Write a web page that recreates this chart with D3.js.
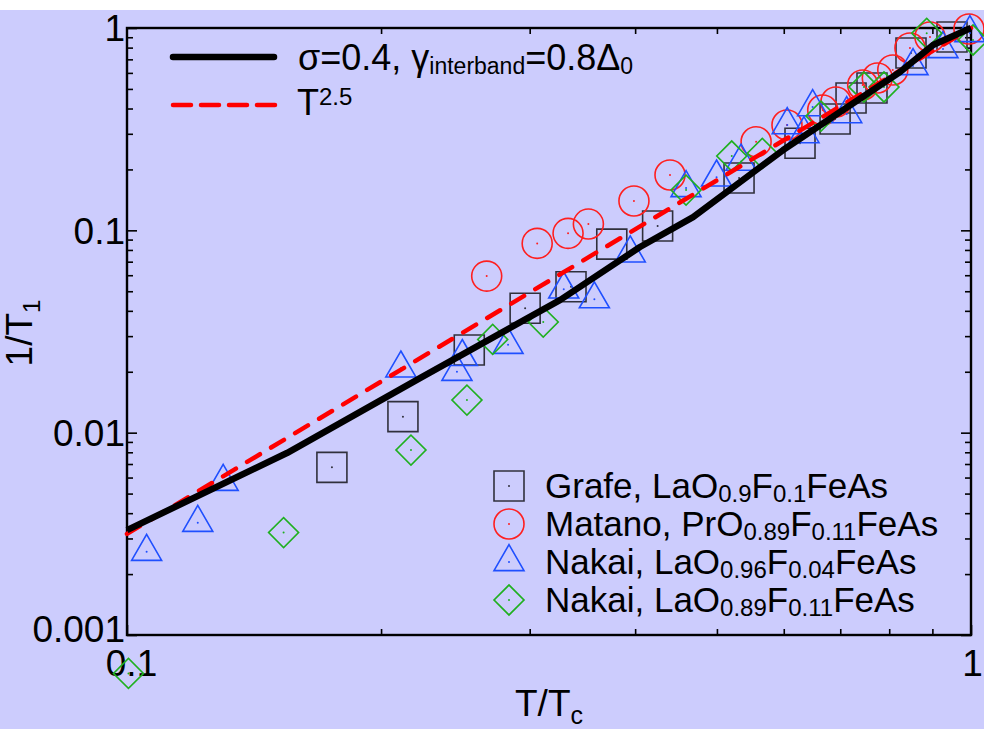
<!DOCTYPE html>
<html>
<head>
<meta charset="utf-8">
<script src="https://cdn.jsdelivr.net/npm/d3@7"></script>
<style>
  html, body { margin: 0; padding: 0; background: #fff; }
  svg text { font-family: "Liberation Sans", Arial, sans-serif; fill: #000; }
</style>
</head>
<body>
<svg id="chart" width="984" height="729"></svg>
<script>
// values (T/Tc , 1/T1 normalised)
const theoryT    = [0.1, 0.1547, 0.2224, 0.3258, 0.4053, 0.4685, 0.5989, 0.6996, 0.824, 0.9016, 1];
const theoryRate = [0.0033, 0.00793, 0.0186, 0.0452, 0.0827, 0.1163, 0.2493, 0.3844, 0.6061, 0.824, 1];

const powerT    = [0.1, 1];
const powerRate = [0.00316, 1];

const grafeT    = [0.1749, 0.2123, 0.2544, 0.2963, 0.3358, 0.3753, 0.4253, 0.5311, 0.6272, 0.6902, 0.7209, 0.7633, 0.849, 0.9495];
const grafeRate = [0.00674, 0.012, 0.0256, 0.0412, 0.0526, 0.0855, 0.105, 0.1814, 0.2692, 0.3549, 0.4508, 0.5051, 0.7523, 0.9027];

const matanoT    = [0.2668, 0.3062, 0.3331, 0.3521, 0.3987, 0.4399, 0.5564, 0.6053, 0.6673, 0.6918, 0.7442, 0.7745, 0.8078, 0.8466, 0.8941, 0.9945];
const matanoRate = [0.0594, 0.0862, 0.0966, 0.1074, 0.1396, 0.1877, 0.2742, 0.3315, 0.3932, 0.4307, 0.5228, 0.5661, 0.6201, 0.7961, 0.9026, 0.989];

const nakai04T    = [0.1055, 0.1213, 0.13, 0.2111, 0.246, 0.2496, 0.2828, 0.3292, 0.3579, 0.3947, 0.4596, 0.4995, 0.534, 0.6057, 0.634, 0.6492, 0.7124, 0.8537, 0.9264, 0.997];
const nakai04Rate = [0.00258, 0.00359, 0.00572, 0.0208, 0.02, 0.0237, 0.0272, 0.0511, 0.0457, 0.077, 0.1619, 0.1828, 0.2188, 0.3315, 0.2992, 0.4069, 0.3757, 0.6492, 0.7874, 0.9447];

const nakai11T    = [0.1004, 0.1533, 0.217, 0.2528, 0.2712, 0.3113, 0.4596, 0.5206, 0.5659, 0.6642, 0.7467, 0.7887, 0.8862, 1.0055];
const nakai11Rate = [0.000646, 0.00321, 0.0082, 0.0145, 0.0289, 0.0352, 0.1582, 0.233, 0.2402, 0.3673, 0.511, 0.511, 0.9414, 0.8723];

const yMajor = [1, 0.1, 0.01, 0.001];
const yMinor = [2,3,4,5,6,7,8,9].flatMap(m => [m * 0.001, m * 0.01, m * 0.1]);
const yTickLabels = ["1", "0.1", "0.01", "0.001"];
const xMajor = [0.1, 1];
const xMinor = [0.2, 0.3, 0.4, 0.5, 0.6, 0.7, 0.8, 0.9];
const xTickLabels = ["0.1", "1"];

const seriesNames = [
  ["Grafe, LaO", "0.9", "F", "0.1", "FeAs"],
  ["Matano, PrO", "0.89", "F", "0.11", "FeAs"],
  ["Nakai, LaO", "0.96", "F", "0.04", "FeAs"],
  ["Nakai, LaO", "0.89", "F", "0.11", "FeAs"]
];

const bg = "#ccccfd";
const svg = d3.select("#chart");

svg.append("rect")
  .attr("x", 0).attr("y", 10)
  .attr("width", 984).attr("height", 719)
  .attr("fill", bg);

const x = d3.scaleLog().domain([0.1, 1]).range([127, 971]);
const y = d3.scaleLog().domain([0.001, 1]).range([635, 28]);

// ---- axes (ticks pointing inwards on all four sides)
function styleAxis(g) {
  g.select(".domain").remove();
  g.selectAll(".tick line").attr("stroke", "#000").attr("stroke-width", 1.6);
  g.selectAll(".tick text").attr("font-size", 37).attr("fill", "#000");
}

svg.append("g").attr("transform", "translate(127,0)")
  .call(d3.axisLeft(y).tickValues(yMajor).tickSize(-10).tickPadding(2)
    .tickFormat((d, i) => yTickLabels[i]))
  .call(styleAxis)
  .call(g => g.selectAll(".tick text").attr("dy", (d, i) => i === 3 ? "0.18em" : "0.35em"))
  .attr("font-family", null);

svg.append("g").attr("transform", "translate(127,0)")
  .call(d3.axisLeft(y).tickValues(yMinor).tickSize(-6).tickFormat(""))
  .call(styleAxis);

svg.append("g").attr("transform", "translate(971,0)")
  .call(d3.axisRight(y).tickValues(yMajor).tickSize(-10).tickFormat(""))
  .call(styleAxis);

svg.append("g").attr("transform", "translate(971,0)")
  .call(d3.axisRight(y).tickValues(yMinor).tickSize(-6).tickFormat(""))
  .call(styleAxis);

svg.append("g").attr("transform", "translate(0,635)")
  .call(d3.axisBottom(x).tickValues(xMajor).tickSize(-10).tickPadding(15)
    .tickFormat((d, i) => xTickLabels[i]))
  .call(styleAxis)
  .call(g => g.selectAll(".tick text").attr("dx", (d, i) => i === 0 ? 4 : 1))
  .attr("font-family", null);

svg.append("g").attr("transform", "translate(0,635)")
  .call(d3.axisBottom(x).tickValues(xMinor).tickSize(-6).tickFormat(""))
  .call(styleAxis);

svg.append("g").attr("transform", "translate(0,28)")
  .call(d3.axisTop(x).tickValues(xMinor).tickSize(-6).tickFormat(""))
  .call(styleAxis);

svg.append("rect")
  .attr("x", 127).attr("y", 28)
  .attr("width", 971 - 127).attr("height", 635 - 28)
  .attr("fill", "none").attr("stroke", "#000").attr("stroke-width", 2.4);

// ---- markers
const markerSpecs = [
  { t: grafeT,   r: grafeRate,   color: "#30303c", type: d3.symbolSquare,   size: 900, rot: 0 },
  { t: matanoT,  r: matanoRate,  color: "#ff1f1f", type: d3.symbolCircle,   size: 707, rot: 0 },
  { t: nakai04T, r: nakai04Rate, color: "#1f4fff", type: d3.symbolTriangle, size: 390, rot: 0 },
  { t: nakai11T, r: nakai11Rate, color: "#1fb01f", type: d3.symbolSquare,   size: 450, rot: 45 }
];

function drawMarker(g, spec, cx, cy) {
  g.append("path")
    .attr("d", d3.symbol().type(spec.type).size(spec.size)())
    .attr("transform", `translate(${cx},${cy}) rotate(${spec.rot})`)
    .attr("fill", "none")
    .attr("stroke", spec.color)
    .attr("stroke-width", 1.6);
  g.append("circle")
    .attr("cx", cx).attr("cy", cy).attr("r", 1)
    .attr("fill", spec.color);
}

const markerLayer = svg.append("g");
markerSpecs.forEach(spec => {
  spec.t.forEach((t, i) => drawMarker(markerLayer, spec, x(t), y(spec.r[i])));
});

// ---- curves
const line = d3.line().x(d => x(d[0])).y(d => y(d[1]));

svg.append("path")
  .datum(powerT.map((t, i) => [t, powerRate[i]]))
  .attr("d", line)
  .attr("fill", "none")
  .attr("stroke", "#ff0000")
  .attr("stroke-width", 4.5)
  .attr("stroke-linecap", "round")
  .attr("stroke-dasharray", "15,13");

svg.append("path")
  .datum(theoryT.map((t, i) => [t, theoryRate[i]]))
  .attr("d", line)
  .attr("fill", "none")
  .attr("stroke", "#000")
  .attr("stroke-width", 6.5)
  .attr("stroke-linejoin", "round");

// ---- top legend
svg.append("line")
  .attr("x1", 173).attr("x2", 274).attr("y1", 57).attr("y2", 57)
  .attr("stroke", "#000").attr("stroke-width", 6.5).attr("stroke-linecap", "round");
svg.append("line")
  .attr("x1", 173).attr("x2", 275).attr("y1", 105).attr("y2", 105)
  .attr("stroke", "#ff0000").attr("stroke-width", 4.5).attr("stroke-linecap", "round")
  .attr("stroke-dasharray", "18,10");

const l1 = svg.append("text").attr("x", 298).attr("y", 70).attr("font-size", 36);
l1.append("tspan").text("σ=0.4, γ");
l1.append("tspan").attr("font-size", 23).attr("dy", 4).text("interband");
l1.append("tspan").attr("dy", -4).text("=0.8Δ");
l1.append("tspan").attr("font-size", 23).attr("dy", 4).text("0");

const l2 = svg.append("text").attr("x", 297).attr("y", 115).attr("font-size", 36);
l2.append("tspan").text("T");
l2.append("tspan").attr("font-size", 24).attr("dy", -10).text("2.5");

// ---- data legend
const rowY = [498, 536, 574, 612];
seriesNames.forEach((parts, i) => {
  drawMarker(svg, markerSpecs[i], 509, rowY[i] - 12);
  const t = svg.append("text").attr("x", 545).attr("y", rowY[i]).attr("font-size", 35);
  parts.forEach((p, k) => {
    const sub = k % 2 === 1;
    t.append("tspan")
      .attr("font-size", sub ? 24 : 35)
      .attr("dy", k === 0 ? 0 : (sub ? 4 : -4))
      .text(p);
  });
});

// ---- axis titles
const xt = svg.append("text")
  .attr("x", 549).attr("y", 716)
  .attr("text-anchor", "middle").attr("font-size", 37);
xt.append("tspan").text("T/T");
xt.append("tspan").attr("font-size", 25).attr("dy", 8).text("c");

const yt = svg.append("text")
  .attr("transform", "translate(32,333) rotate(-90)")
  .attr("text-anchor", "middle").attr("font-size", 37);
yt.append("tspan").text("1/T");
yt.append("tspan").attr("font-size", 24).attr("dy", 8).text("1");
</script>
</body>
</html>
